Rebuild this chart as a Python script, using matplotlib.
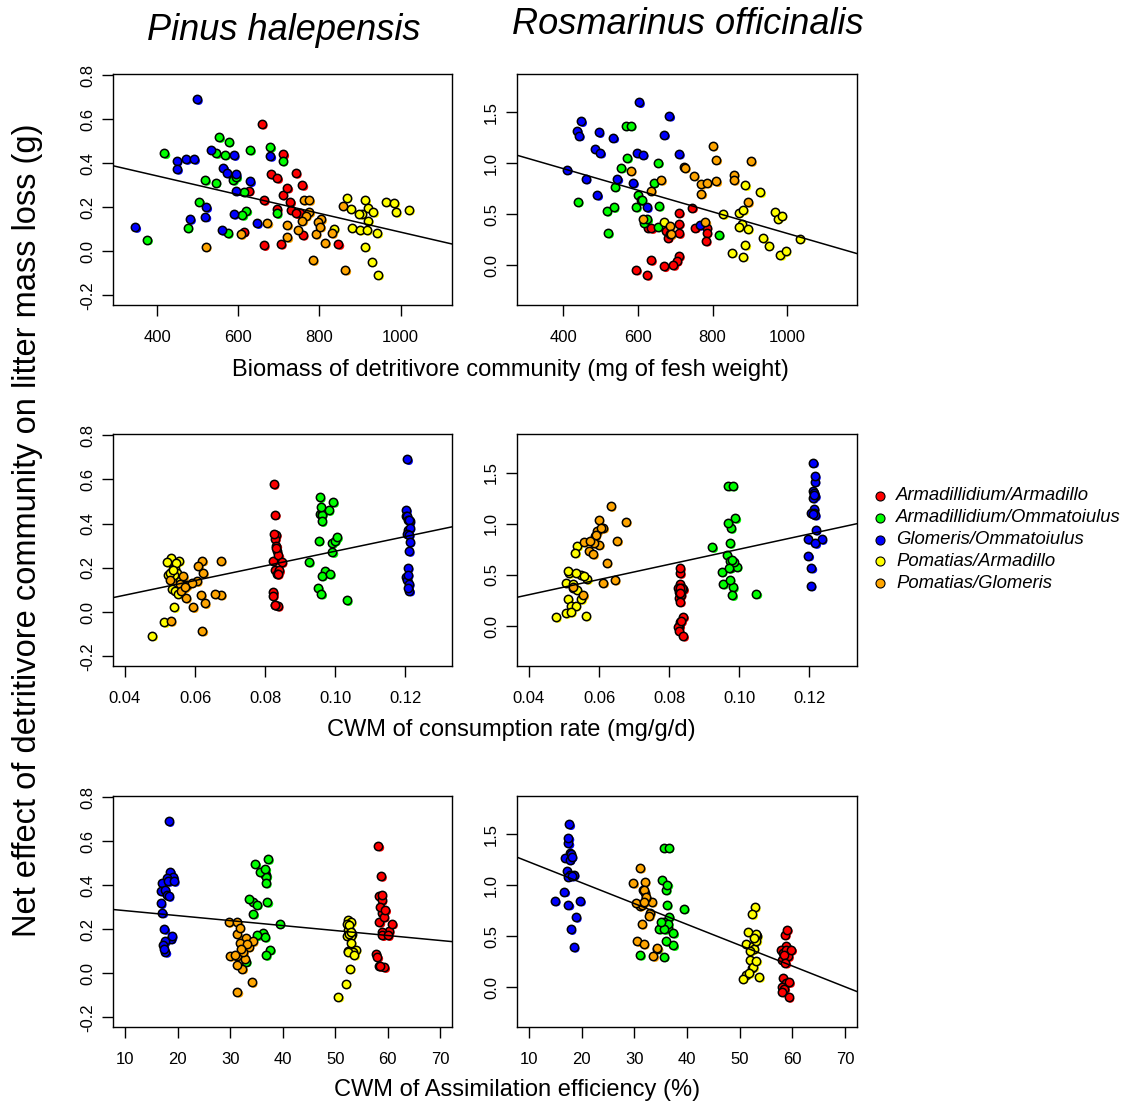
import matplotlib
matplotlib.use("Agg")
import matplotlib.pyplot as plt
import matplotlib.transforms as mtransforms
from matplotlib.lines import Line2D
import numpy as np

plt.rcParams['font.family'] = ['Liberation Sans', 'DejaVu Sans']

# ---------------- data ----------------
group_names = ["Armadillidium/Armadillo", "Armadillidium/Ommatoiulus",
               "Glomeris/Ommatoiulus", "Pomatias/Armadillo", "Pomatias/Glomeris"]
group_colors = ["#FF0000", "#00FF00", "#0000FF", "#FFFF00", "#FFA500"]

# Pinus halepensis
pin_red_y = [0.578, 0.441, 0.35, 0.332, 0.275, 0.232, 0.192, 0.256, 0.089, 0.027, 0.033, 0.355, 0.30, 0.288, 0.225, 0.188, 0.172, 0.074, 0.032, 0.172]
pin_red_bio = [658, 711, 681, 696, 626, 663, 695, 709, 613, 663, 705, 742, 758, 721, 728, 731, 753, 759, 847, 742]
pin_red_cons = [0.0824, 0.0828, 0.0831, 0.0828, 0.0833, 0.0823, 0.0829, 0.0838, 0.0823, 0.0836, 0.0829, 0.0826, 0.0832, 0.0830, 0.0847, 0.0840, 0.0834, 0.0822, 0.0829, 0.0836]
pin_red_ae = [58.2, 58.7, 58.4, 58.8, 58.9, 58.4, 60.2, 59.2, 57.7, 59.3, 58.3, 58.8, 58.6, 59.5, 60.8, 58.8, 58.9, 58.0, 58.6, 60.0]

pin_green_y = [0.444, 0.518, 0.497, 0.445, 0.438, 0.46, 0.474, 0.41, 0.323, 0.312, 0.323, 0.338, 0.27, 0.226, 0.184, 0.164, 0.172, 0.107, 0.082, 0.053]
pin_green_bio = [418, 553, 576, 546, 567, 629, 679, 709, 518, 544, 587, 595, 613, 504, 620, 610, 695, 475, 574, 375]
pin_green_cons = [0.0957, 0.0956, 0.0994, 0.0962, 0.0961, 0.0981, 0.0959, 0.0961, 0.0953, 0.0991, 0.0999, 0.1005, 0.0992, 0.0925, 0.0971, 0.0962, 0.0985, 0.0952, 0.0960, 0.1033]
pin_green_ae = [36.9, 37.2, 34.8, 36.7, 36.8, 35.6, 36.7, 36.8, 34.4, 35.1, 37.1, 33.6, 34.4, 39.4, 36.3, 36.6, 35.1, 37.6, 36.8, 33.0]

pin_blue_y = [0.69, 0.462, 0.436, 0.432, 0.41, 0.418, 0.418, 0.373, 0.38, 0.355, 0.35, 0.317, 0.275, 0.20, 0.157, 0.146, 0.169, 0.127, 0.096, 0.109]
pin_blue_bio = [498, 533, 589, 679, 448, 471, 491, 449, 563, 573, 594, 629, 594, 521, 519, 481, 589, 646, 559, 346]
pin_blue_cons = [0.1205, 0.1202, 0.1202, 0.1205, 0.1212, 0.1207, 0.1210, 0.1207, 0.1212, 0.1205, 0.1210, 0.1212, 0.1210, 0.1207, 0.1202, 0.1205, 0.1207, 0.1210, 0.1211, 0.1208]
pin_blue_ae = [18.3, 18.6, 19.2, 18.0, 17.1, 18.2, 19.3, 16.9, 17.6, 18.0, 18.3, 16.8, 17.1, 17.5, 18.7, 17.6, 18.9, 17.3, 17.7, 17.4]

pin_yellow_y = [0.243, 0.193, 0.231, 0.195, 0.177, 0.169, 0.169, 0.139, 0.225, 0.22, 0.177, 0.188, 0.102, 0.107, 0.096, 0.096, 0.083, 0.021, -0.047, -0.107]
pin_yellow_bio = [867, 877, 913, 920, 933, 904, 898, 920, 965, 985, 989, 1021, 836, 880, 899, 917, 943, 913, 929, 945]
pin_yellow_cons = [0.0531, 0.0536, 0.0554, 0.0542, 0.0548, 0.0524, 0.0540, 0.0557, 0.0519, 0.0545, 0.0530, 0.0538, 0.0535, 0.0566, 0.0550, 0.0543, 0.0552, 0.0540, 0.0512, 0.0478]
pin_yellow_ae = [52.5, 52.8, 53.0, 52.5, 53.1, 52.3, 52.9, 53.0, 52.2, 52.6, 52.7, 52.9, 52.5, 53.9, 53.3, 52.4, 53.6, 52.8, 52.0, 50.6]

pin_orange_y = [0.021, 0.077, 0.128, 0.12, 0.063, 0.232, 0.232, 0.177, 0.161, 0.139, 0.096, 0.078, 0.145, 0.133, 0.111, 0.082, 0.039, 0.207, -0.041, -0.085]
pin_orange_bio = [520, 606, 672, 721, 721, 761, 775, 775, 767, 758, 748, 791, 804, 796, 802, 831, 814, 857, 784, 864]
pin_orange_cons = [0.0594, 0.0617, 0.0557, 0.0576, 0.0574, 0.0621, 0.0674, 0.0623, 0.0566, 0.0605, 0.0560, 0.0674, 0.0530, 0.0590, 0.0570, 0.0657, 0.0628, 0.0609, 0.0531, 0.0621]
pin_orange_ae = [32.3, 31.3, 32.8, 33.5, 32.8, 29.7, 31.4, 31.3, 33.0, 31.9, 32.5, 30.0, 34.3, 33.2, 32.0, 31.0, 31.3, 31.8, 34.1, 31.4]

# Rosmarinus officinalis
ros_red_y = [0.516, 0.408, 0.313, 0.565, 0.369, 0.362, 0.336, 0.271, 0.303, 0.091, 0.042, 0.0, -0.013, 0.049, -0.046, -0.098, 0.369, 0.369, 0.320, 0.238]
ros_red_bio = [710, 710, 710, 745, 626, 636, 675, 680, 687, 710, 704, 695, 670, 635, 595, 624, 753, 784, 784, 782]
ros_red_cons = [0.0831, 0.0831, 0.0831, 0.0831, 0.0826, 0.0840, 0.0829, 0.0829, 0.0833, 0.0840, 0.0831, 0.0829, 0.0826, 0.0834, 0.0828, 0.0840, 0.0836, 0.0832, 0.0831, 0.0831]
ros_red_ae = [58.6, 58.8, 59.0, 59.0, 57.9, 59.6, 58.3, 58.1, 59.2, 58.3, 58.8, 58.0, 58.5, 59.4, 58.1, 59.3, 58.9, 59.8, 58.4, 58.7]

ros_green_y = [1.37, 1.37, 1.054, 0.956, 1.008, 0.809, 0.77, 0.692, 0.636, 0.571, 0.58, 0.623, 0.531, 0.568, 0.411, 0.378, 0.316, 0.300, 0.643, 0.45]
ros_green_bio = [567, 581, 571, 555, 654, 642, 538, 599, 608, 595, 656, 439, 516, 535, 616, 653, 520, 817, 610, 625]
ros_green_cons = [0.0969, 0.0981, 0.0989, 0.0976, 0.0969, 0.0973, 0.0923, 0.0966, 0.0973, 0.0975, 0.0993, 0.0984, 0.0950, 0.0972, 0.0954, 0.0982, 0.1049, 0.0980, 0.0978, 0.0973]
ros_green_ae = [35.6, 36.5, 35.2, 36.0, 36.3, 36.2, 39.4, 36.6, 35.6, 34.7, 36.4, 36.4, 37.4, 35.7, 37.4, 34.4, 31.1, 35.6, 35.0, 36.0]

ros_blue_y = [1.598, 1.412, 1.321, 1.272, 1.304, 1.252, 1.465, 1.282, 1.145, 1.103, 1.103, 1.086, 1.093, 0.939, 0.848, 0.848, 0.809, 0.688, 0.568, 0.394]
ros_blue_bio = [603, 448, 437, 442, 495, 534, 684, 670, 484, 499, 598, 613, 710, 410, 460, 545, 587, 491, 624, 766]
ros_blue_cons = [0.1211, 0.1215, 0.1211, 0.1216, 0.1213, 0.1210, 0.1216, 0.1212, 0.1213, 0.1206, 0.1212, 0.1216, 0.1210, 0.1218, 0.1196, 0.1235, 0.1217, 0.1197, 0.1206, 0.1204]
ros_blue_ae = [17.65, 17.5, 17.8, 16.8, 17.9, 17.7, 17.5, 18.1, 17.2, 17.8, 18.5, 17.4, 18.2, 16.7, 14.9, 19.7, 17.5, 18.9, 17.9, 18.5]

ros_yellow_y = [0.424, 0.783, 0.714, 0.499, 0.516, 0.541, 0.408, 0.375, 0.355, 0.519, 0.457, 0.486, 0.264, 0.193, 0.196, 0.124, 0.085, 0.098, 0.137, 0.261]
ros_yellow_bio = [670, 888, 928, 828, 870, 882, 878, 870, 895, 967, 974, 985, 936, 950, 888, 853, 882, 982, 996, 1034]
ros_yellow_cons = [0.0505, 0.0538, 0.0532, 0.0550, 0.0514, 0.0512, 0.0527, 0.0527, 0.0538, 0.0535, 0.0566, 0.0557, 0.0512, 0.0519, 0.0533, 0.0505, 0.0477, 0.0562, 0.0520, 0.0549]
ros_yellow_ae = [51.3, 52.9, 52.4, 53.3, 53.2, 51.6, 52.5, 52.7, 52.0, 53.2, 53.2, 52.8, 51.9, 52.3, 52.6, 51.3, 50.6, 53.7, 51.8, 53.2]

ros_orange_y = [0.927, 0.835, 0.731, 0.959, 0.45, 0.385, 0.303, 1.171, 1.037, 1.021, 0.956, 0.878, 0.796, 0.809, 0.822, 0.89, 0.835, 0.702, 0.619, 0.424]
ros_orange_bio = [581, 662, 635, 723, 613, 686, 688, 800, 810, 903, 726, 750, 770, 785, 810, 857, 857, 770, 895, 781]
ros_orange_cons = [0.0595, 0.0652, 0.0570, 0.0612, 0.0645, 0.0526, 0.0555, 0.0633, 0.0599, 0.0677, 0.0605, 0.0588, 0.0600, 0.0585, 0.0557, 0.0590, 0.0575, 0.0583, 0.0622, 0.0612]
ros_orange_ae = [32.0, 33.3, 33.0, 31.6, 30.6, 34.4, 33.6, 31.1, 32.0, 29.8, 31.8, 32.3, 31.0, 31.4, 30.3, 32.2, 31.9, 32.8, 31.4, 31.8]

# regression lines (intercept, slope) per panel: rows = biomass, consumption, assimilation
pin_fit_intercepts = [0.512, -0.056, 0.307]
pin_fit_slopes = [-0.000425, 3.31, -0.00226]
ros_fit_intercepts = [1.372, 0.009, 1.434]
ros_fit_slopes = [-0.00106, 7.42, -0.02043]

column_titles = ["Pinus halepensis", "Rosmarinus officinalis"]
row_xlabels = ["Biomass of detritivore community (mg of fesh weight)",
               "CWM of consumption rate (mg/g/d)",
               "CWM of Assimilation efficiency (%)"]
ylabel_text = "Net effect of detritivore community on litter mass loss (g)"

biomass_ticks = [400, 600, 800, 1000]
cons_ticks = [0.04, 0.06, 0.08, 0.10, 0.12]
ae_ticks = [10, 20, 30, 40, 50, 60, 70]
pin_yticks = [-0.2, 0.0, 0.2, 0.4, 0.6, 0.8]
ros_yticks = [0.0, 0.5, 1.0, 1.5]

# ---------------- assemble ----------------
pin = {
    'y': [pin_red_y, pin_green_y, pin_blue_y, pin_yellow_y, pin_orange_y],
    'x': [[pin_red_bio, pin_green_bio, pin_blue_bio, pin_yellow_bio, pin_orange_bio],
          [pin_red_cons, pin_green_cons, pin_blue_cons, pin_yellow_cons, pin_orange_cons],
          [pin_red_ae, pin_green_ae, pin_blue_ae, pin_yellow_ae, pin_orange_ae]],
    'a': pin_fit_intercepts, 'b': pin_fit_slopes,
}
ros = {
    'y': [ros_red_y, ros_green_y, ros_blue_y, ros_yellow_y, ros_orange_y],
    'x': [[ros_red_bio, ros_green_bio, ros_blue_bio, ros_yellow_bio, ros_orange_bio],
          [ros_red_cons, ros_green_cons, ros_blue_cons, ros_yellow_cons, ros_orange_cons],
          [ros_red_ae, ros_green_ae, ros_blue_ae, ros_yellow_ae, ros_orange_ae]],
    'a': ros_fit_intercepts, 'b': ros_fit_slopes,
}

W, H = 1136, 1106
fig = plt.figure(figsize=(W / 100, H / 100), dpi=100)

col_x = [(113, 452), (517, 857)]
row_y = [(74, 305), (434, 666), (796, 1027)]
xlims = [[(291, 1127), (276, 1187)],
         [(0.0366, 0.1333), (0.0366, 0.1336)],
         [(7.72, 72.2), (7.72, 72.3)]]
ylims = [(-0.244, 0.805), (-0.391, 1.877)]
xticks = [biomass_ticks, cons_ticks, ae_ticks]
yticks = [pin_yticks, ros_yticks]

def fmt_x(r, v):
    if r == 1:
        return f"{v:.2f}"
    return f"{int(v)}"

shadow = mtransforms.ScaledTranslation(2.0 / 100, -1.8 / 100, fig.dpi_scale_trans)

for r in range(3):
    for c, dset in enumerate([pin, ros]):
        x0, x1 = col_x[c]
        yt, yb = row_y[r]
        ax = fig.add_axes([x0 / W, 1 - yb / H, (x1 - x0) / W, (yb - yt) / H])
        for g in range(5):
            xs = dset['x'][r][g]
            ys = dset['y'][g]
            ax.scatter(xs, ys, s=30, c=group_colors[g], edgecolors='none',
                       transform=ax.transData + shadow, zorder=2)
            ax.scatter(xs, ys, s=36, c=group_colors[g], edgecolors='black',
                       linewidths=1.1, zorder=3)
        xl = xlims[r][c]
        xx = np.array(xl)
        ax.plot(xx, dset['a'][r] + dset['b'][r] * xx, color='black', lw=1.1, zorder=4)
        ax.set_xlim(xl)
        ax.set_ylim(ylims[c])
        ax.set_xticks(xticks[r])
        ax.set_xticklabels([fmt_x(r, v) for v in xticks[r]])
        ax.set_yticks(yticks[c])
        ax.set_yticklabels([f"{v:.1f}" for v in yticks[c]], rotation=90, va='center')
        ax.tick_params(axis='both', direction='out', length=8, width=1.0,
                       labelsize=12, color='black')
        ax.tick_params(axis='x', pad=10)
        ax.tick_params(axis='y', pad=5)
        for sp in ax.spines.values():
            sp.set_linewidth(1.0)

# titles
fig.text(284 / W, 1 - 30 / H, column_titles[0], fontsize=26, style='italic',
         ha='center', va='center')
fig.text(688 / W, 1 - 25 / H, column_titles[1], fontsize=26, style='italic',
         ha='center', va='center')

# x labels
for txt, xx, yy in zip(row_xlabels, [510, 511, 517], [370, 730, 1090]):
    fig.text(xx / W, 1 - yy / H, txt, fontsize=17, ha='center', va='center')

# y label
fig.text(28 / W, 1 - 530 / H, ylabel_text, fontsize=23.5, rotation=90,
         ha='center', va='center')

# legend
for i, (name, col) in enumerate(zip(group_names, group_colors)):
    yy = 496 + i * 21.8
    fig.add_artist(Line2D([880 / W], [1 - yy / H], marker='o', markersize=6.5,
                          markerfacecolor=col, markeredgecolor='black',
                          markeredgewidth=0.8, linestyle='none'))
    fig.text(896 / W, 1 - yy / H, name, fontsize=13.3, style='italic',
             ha='left', va='center')

fig.savefig("out.png", dpi=100)
